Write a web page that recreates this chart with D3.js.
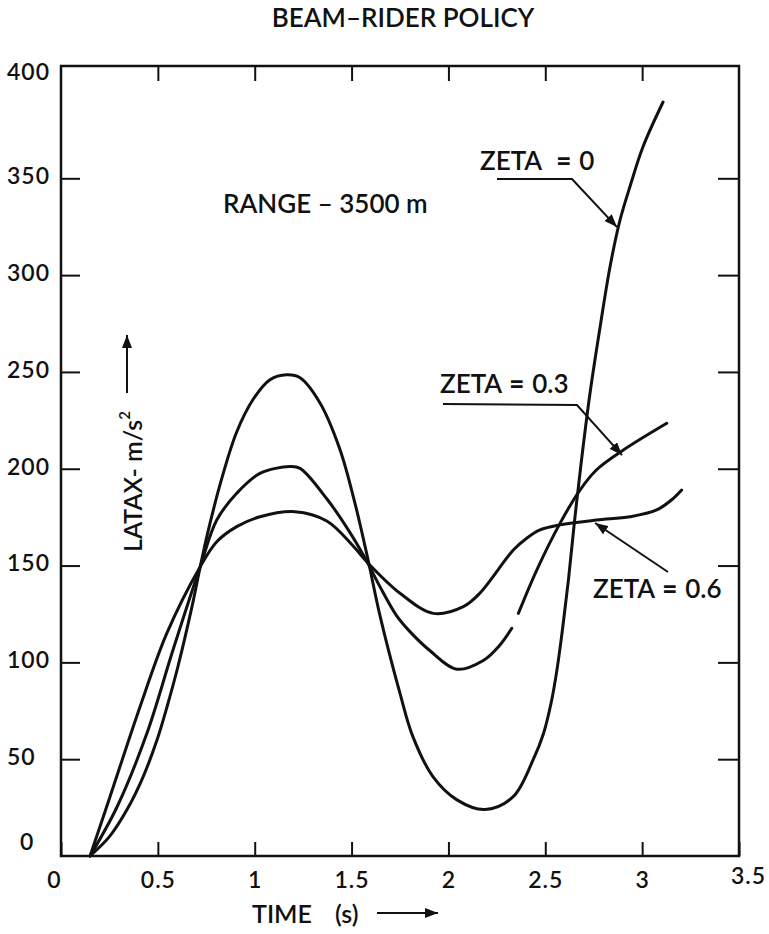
<!DOCTYPE html>
<html>
<head>
<meta charset="utf-8">
<script src="https://cdn.jsdelivr.net/npm/d3@7"></script>
<style>
  html, body { margin: 0; padding: 0; background: #fff; }
  svg { display: block; }
  text { font-family: Lato, "Open Sans", "DejaVu Sans", sans-serif; fill: #111; font-weight: 600; }
  .tick text { font-size: 23px; letter-spacing: 1px; }
</style>
</head>
<body>
<svg id="chart" width="769" height="934"></svg>
<script>
// ---------------- DATA ----------------
const xTicks = [0, 0.5, 1, 1.5, 2, 2.5, 3, 3.5];
const yTicks = [0, 50, 100, 150, 200, 250, 300, 350, 400];
const innerXTicks = [0.5, 1, 1.5, 2, 2.5, 3];
const innerYTicks = [50, 100, 150, 200, 250, 300, 350];

// LATAX (m/s^2) vs TIME (s)
const zeta0 = [
  [0.15, 0], [0.25, 10], [0.341, 24], [0.42, 40], [0.496, 60], [0.55, 78],
  [0.604, 98], [0.681, 131], [0.718, 149], [0.76, 168], [0.83, 195], [0.907, 219],
  [0.993, 236], [1.079, 246], [1.165, 248.5], [1.234, 247], [1.337, 234],
  [1.44, 210], [1.518, 182], [1.585, 153], [1.647, 124], [1.75, 84],
  [1.817, 61.5], [1.92, 41], [2.044, 29], [2.189, 24], [2.333, 30.5],
  [2.437, 49.6], [2.49, 63], [2.53, 79], [2.56, 96], [2.59, 118], [2.62, 143],
  [2.65, 172], [2.684, 202], [2.731, 239.1], [2.783, 273.2], [2.834, 304.2],
  [2.886, 328.5], [2.938, 346], [3.004, 366.2], [3.108, 389.4]
];
const zeta03a = [
  [0.15, 0], [0.289, 25.3], [0.444, 63.5], [0.578, 106.4], [0.718, 149.3],
  [0.804, 173.5], [0.907, 187.3], [1.027, 197.6], [1.182, 201.1], [1.234, 200.2],
  [1.372, 184.5], [1.492, 167], [1.585, 151], [1.647, 139], [1.733, 124],
  [1.80, 116], [1.905, 106], [2.043, 96.5], [2.18, 101], [2.266, 109], [2.327, 117.6]
];
const zeta03b = [
  [2.361, 125.3], [2.456, 147.7], [2.576, 171.8], [2.679, 189], [2.765, 199.5],
  [2.903, 209.7], [3.127, 223.5]
];
const zeta06 = [
  [0.15, 0], [0.253, 30.6], [0.408, 77.1], [0.546, 115], [0.718, 149.3],
  [0.804, 162.3], [0.907, 170.1], [1.027, 175.2], [1.208, 177.8], [1.372, 173],
  [1.509, 160], [1.585, 151.3], [1.75, 135.7], [1.922, 125.3], [2.077, 128.8],
  [2.163, 135.8], [2.335, 158], [2.404, 164.1], [2.473, 168.4], [2.576, 171],
  [2.765, 173.5], [2.937, 175.2], [3.075, 178.7], [3.161, 184.7], [3.204, 189]
];

const titleText = "BEAM\u2013RIDER POLICY";
const rangeText = "RANGE \u2013 3500 m";
const seriesLabels = ["ZETA", "ZETA", "ZETA"];
const seriesValues = ["0", "0.3", "0.6"];

// ---------------- LAYOUT ----------------
const plot = { left: 61, right: 739, top: 66, bottom: 856 };
const svg = d3.select("#chart");
svg.append("rect").attr("width", 769).attr("height", 934).attr("fill", "#fff");

const x = d3.scaleLinear().domain([0, 3.5]).range([plot.left, plot.right]);
const y = d3.scaleLinear().domain([0, 408]).range([plot.bottom, plot.top]);

const defs = svg.append("defs");
defs.append("marker")
  .attr("id", "ah").attr("viewBox", "0 0 13 10")
  .attr("refX", 13).attr("refY", 5)
  .attr("markerWidth", 13).attr("markerHeight", 10)
  .attr("markerUnits", "userSpaceOnUse").attr("orient", "auto")
  .append("path").attr("d", "M0,0L13,5L0,10z").attr("fill", "#111");

// Bottom axis (ticks point inward)
const gB = svg.append("g")
  .attr("transform", `translate(0,${plot.bottom})`)
  .call(d3.axisBottom(x).tickValues(xTicks).tickSize(-14).tickPadding(16).tickFormat(d => String(d)));
gB.select(".domain").remove();
gB.selectAll(".tick line").attr("stroke", "#111").attr("stroke-width", 2);
gB.selectAll(".tick").filter(d => d === 0).select("text").attr("dx", -7);
gB.selectAll(".tick").filter(d => d === 3.5).select("text").attr("dx", 9).attr("y", 12);

// Left axis
const gL = svg.append("g")
  .attr("transform", `translate(${plot.left},0)`)
  .call(d3.axisLeft(y).tickValues(yTicks).tickSize(-19).tickPadding(8).tickFormat(d => String(d)));
gL.select(".domain").remove();
gL.selectAll(".tick line").attr("stroke", "#111").attr("stroke-width", 2);
gL.selectAll(".tick").filter(d => d === 0 || d === 400).select("line").remove();
gL.selectAll(".tick text").attr("text-anchor", "start").attr("x", -54).attr("y", -2);
gL.selectAll(".tick").filter(d => d === 0).select("text").attr("x", -41).attr("y", -14);
gL.selectAll(".tick").filter(d => d === 400).select("text").attr("y", -9);

// Right axis ticks
const gR = svg.append("g")
  .attr("transform", `translate(${plot.right},0)`)
  .call(d3.axisRight(y).tickValues(innerYTicks).tickSize(-21).tickFormat(""));
gR.select(".domain").remove();
gR.selectAll(".tick line").attr("stroke", "#111").attr("stroke-width", 2);

// Top axis ticks
const gT = svg.append("g")
  .attr("transform", `translate(0,${plot.top})`)
  .call(d3.axisTop(x).tickValues(innerXTicks).tickSize(-15).tickFormat(""));
gT.select(".domain").remove();
gT.selectAll(".tick line").attr("stroke", "#111").attr("stroke-width", 2);

// Frame
svg.append("rect")
  .attr("x", plot.left).attr("y", plot.top)
  .attr("width", plot.right - plot.left).attr("height", plot.bottom - plot.top)
  .attr("fill", "none").attr("stroke", "#111").attr("stroke-width", 2.5);

// Curves
const line = d3.line().x(d => x(d[0])).y(d => y(d[1])).curve(d3.curveCatmullRom.alpha(0.5));
[zeta0, zeta03a, zeta03b, zeta06].forEach(s => {
  svg.append("path").attr("d", line(s))
    .attr("fill", "none").attr("stroke", "#111").attr("stroke-width", 3)
    .attr("stroke-linejoin", "round").attr("stroke-linecap", "round");
});

// Title
svg.append("text").attr("x", 403).attr("y", 27).attr("text-anchor", "middle")
  .attr("font-size", 26).text(titleText);

// Range note
svg.append("text").attr("x", 223).attr("y", 213).attr("font-size", 26).text(rangeText);

// Series labels with leader arrows
function zetaLabel(i, tx, ty, gap1, gap2) {
  const t = svg.append("text").attr("x", tx).attr("y", ty).attr("font-size", 26)
    .attr("xml:space", "preserve").style("white-space", "pre");
  t.append("tspan").text(seriesLabels[i]);
  t.append("tspan").attr("dx", gap1).attr("font-weight", 900).text("=");
  t.append("tspan").attr("dx", gap2).text(seriesValues[i]);
}
function leader(points) {
  svg.append("path").attr("d", d3.line()(points))
    .attr("fill", "none").attr("stroke", "#111").attr("stroke-width", 2)
    .attr("marker-end", "url(#ah)");
}
zetaLabel(0, 480, 170, 14, 8);
leader([[497, 179], [572, 179], [x(2.87), y(324.8)]]);
zetaLabel(1, 440, 393, 7, 8);
leader([[443, 404], [577, 405], [x(2.896), y(207)]]);
zetaLabel(2, 593, 598, 7, 8);
leader([[668, 572], [x(2.757), y(172)]]);

// Y axis title (rotated) with arrow
const yl = svg.append("text").attr("transform", "translate(142,552) rotate(-90)")
  .attr("font-size", 25).attr("xml:space", "preserve").style("white-space", "pre");
yl.append("tspan").text("LATAX- m/s");
yl.append("tspan").attr("font-size", 15).attr("dy", -12).text("2");
svg.append("line").attr("x1", 127).attr("y1", 393).attr("x2", 127).attr("y2", 335)
  .attr("stroke", "#111").attr("stroke-width", 2).attr("marker-end", "url(#ah)");

// X axis title with arrow
svg.append("text").attr("x", 252).attr("y", 923).attr("font-size", 25).text("TIME");
svg.append("text").attr("x", 335).attr("y", 923).attr("font-size", 25).text("(s)");
svg.append("line").attr("x1", 377).attr("y1", 913).attr("x2", 438).attr("y2", 913)
  .attr("stroke", "#111").attr("stroke-width", 2).attr("marker-end", "url(#ah)");
</script>
</body>
</html>
